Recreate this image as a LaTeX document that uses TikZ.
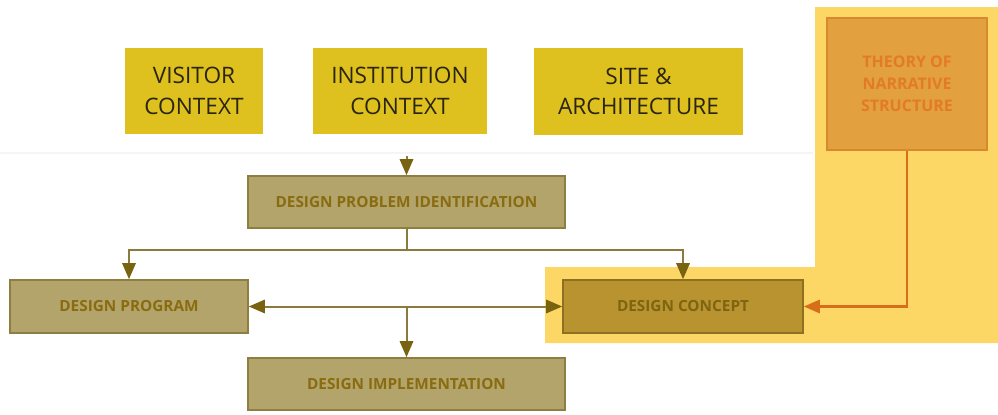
\documentclass[tikz,border=0pt]{standalone}
\usepackage{fontspec}
\setmainfont{Open Sans}
\usetikzlibrary{arrows.meta}
\definecolor{ctxfill}{HTML}{DEC11E}
\definecolor{ctxtext}{HTML}{2B2510}
\definecolor{stagefill}{HTML}{B2A46B}
\definecolor{stagedraw}{HTML}{8E7E40}
\definecolor{stagetext}{HTML}{8A6C10}
\definecolor{conceptfill}{HTML}{B8932F}
\definecolor{conceptdraw}{HTML}{8F7020}
\definecolor{concepttext}{HTML}{7E6512}
\definecolor{glow}{HTML}{FDD766}
\definecolor{theoryfill}{HTML}{E2A03F}
\definecolor{theorydraw}{HTML}{D8892C}
\definecolor{theorytext}{HTML}{E27B26}
\definecolor{linkcol}{HTML}{8A7A3E}
\definecolor{tipcol}{HTML}{7A6310}
\definecolor{orangelink}{HTML}{D66E1A}
\begin{document}
\begin{tikzpicture}[x=0.75pt,y=-0.75pt,
  ctxbox/.style={fill=ctxfill,text=ctxtext,inner sep=0pt,align=center,
    font=\fontsize{17}{23}\selectfont},
  stagebox/.style={fill=stagefill,draw=stagedraw,line width=1.2pt,text=stagetext,
    inner sep=0pt,align=center,font=\fontsize{11.5}{14}\selectfont\bfseries},
  conceptbox/.style={stagebox,fill=conceptfill,draw=conceptdraw,text=concepttext},
  theorybox/.style={fill=theoryfill,draw=theorydraw,line width=1.2pt,text=theorytext,
    inner sep=0pt,align=center,font=\fontsize{12}{16.5}\selectfont\bfseries},
  link/.style={draw=linkcol,line width=1.5pt,-{Triangle[width=10pt,length=12pt,fill=tipcol,color=tipcol]}},
  linkboth/.style={draw=linkcol,line width=1.5pt,
    {Triangle[width=10pt,length=12pt,fill=tipcol,color=tipcol]}-{Triangle[width=10pt,length=12pt,fill=tipcol,color=tipcol]}},
  plain/.style={draw=linkcol,line width=1.5pt},
  orangelinkstyle/.style={draw=orangelink,line width=1.6pt,
    -{Triangle[width=10pt,length=12pt,fill=orangelink]}}
]
\useasboundingbox (0,0) rectangle (998,414);

% highlighted band around the concept stage and the theory input
\fill[glow] (545,267) -- (815,267) -- (815,7) -- (998,7) -- (998,343) -- (545,343) -- cycle;
% faint divider under the context row
\draw[black!4,line width=0.8pt] (0,153) -- (813,153);

% context row
\node[ctxbox,minimum width=138*0.75pt,minimum height=86*0.75pt] (visitor) at (194,91) {VISITOR\\CONTEXT};
\node[ctxbox,minimum width=174*0.75pt,minimum height=86*0.75pt] (institution) at (400,91) {INSTITUTION\\CONTEXT};
\node[ctxbox,minimum width=209*0.75pt,minimum height=87*0.75pt] (site) at (638.5,91.5) {SITE \&\\ARCHITECTURE};

% theory input
\node[theorybox,minimum width=160*0.75pt,minimum height=132*0.75pt] (theory) at (907,84) {THEORY OF\\NARRATIVE\\STRUCTURE};

% design stages
\node[stagebox,minimum width=317*0.75pt,minimum height=52*0.75pt] (dpi) at (406.5,202) {DESIGN PROBLEM IDENTIFICATION};
\node[stagebox,minimum width=238*0.75pt,minimum height=53*0.75pt] (program) at (129,306.5) {DESIGN PROGRAM};
\node[conceptbox,minimum width=240*0.75pt,minimum height=53*0.75pt] (concept) at (683,306.5) {DESIGN CONCEPT};
\node[stagebox,minimum width=317*0.75pt,minimum height=52*0.75pt] (impl) at (406.5,384) {DESIGN IMPLEMENTATION};

% junction points
\coordinate (feed) at (406.5,156);
\coordinate (split) at (406.5,250);
\coordinate (mid) at (406.5,306.5);

% connectors
\draw[link] (feed) -- (dpi.north);
\draw[plain] (dpi.south) -- (split);
\draw[link] (split) -| (program.north);
\draw[link] (split) -| (concept.north);
\draw[linkboth] (program.east) -- (concept.west);
\draw[link] (mid) -- (impl.north);
\draw[orangelinkstyle] (theory.south) |- (concept.east);
\end{tikzpicture}
\end{document}
